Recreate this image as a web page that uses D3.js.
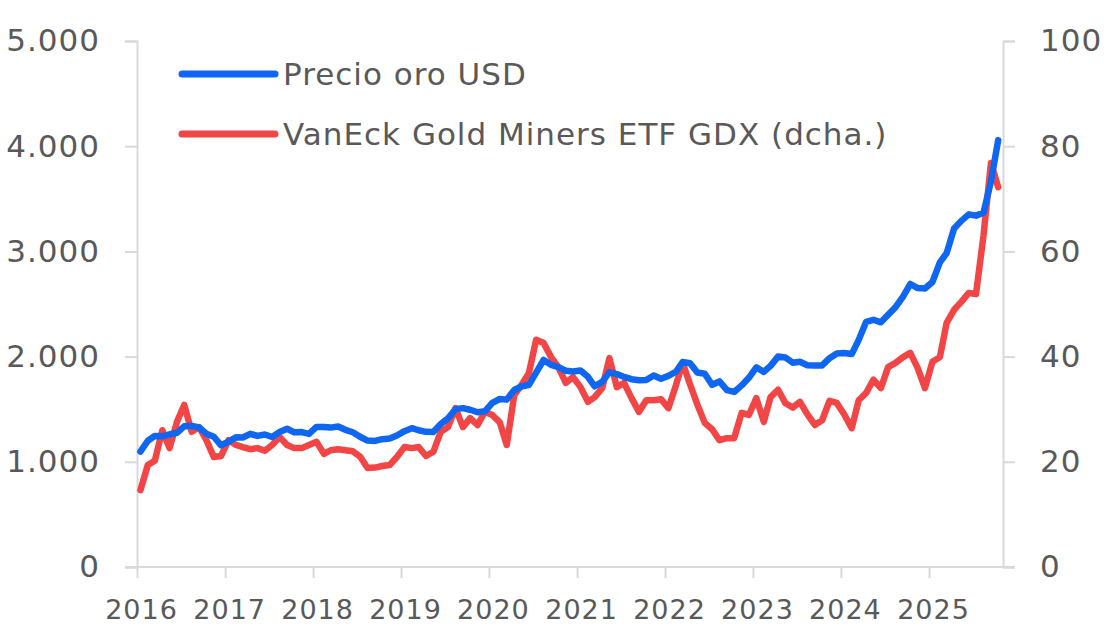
<!DOCTYPE html>
<html lang="es">
  <head>
    <meta charset="UTF-8" />
    <title>Oro vs GDX</title>
    <script src="https://d3js.org/d3.v7.min.js"></script>
    <style>
      body {
        margin: 0;
        background: #fff;
        font-family: "DejaVu Sans", Verdana, sans-serif;
      }
      #chart svg {
        display: block;
      }
    </style>
  </head>
  <body>
    <div id="chart"></div>

    <script>
      // monthly series, Jan 2016 .. Oct 2025 (points sit mid-month)
      const firstMonth = new Date(2016, 0, 1);
      const endMonth = new Date(2025, 10, 1);

      const goldUsd = [
        1097, 1200, 1246, 1242, 1260, 1276, 1337, 1341, 1326, 1267, 1238, 1157,
        1192, 1234, 1231, 1266, 1246, 1260, 1236, 1283, 1314, 1280, 1283, 1265,
        1331, 1331, 1325, 1335, 1304, 1281, 1238, 1202, 1198, 1215, 1221, 1250,
        1291, 1320, 1300, 1285, 1284, 1359, 1413, 1500, 1510, 1495, 1471, 1480,
        1560, 1597, 1591, 1683, 1716, 1732, 1847, 1968, 1921, 1900, 1866, 1858,
        1867, 1808, 1718, 1760, 1850, 1834, 1807, 1785, 1775, 1777, 1821, 1790,
        1817, 1856, 1948, 1937, 1849, 1837, 1732, 1764, 1681, 1664, 1726, 1798,
        1898, 1855, 1912, 2000, 1992, 1942, 1951, 1918, 1916, 1916, 1985, 2030,
        2034, 2024, 2159, 2331, 2350, 2326, 2398, 2470, 2571, 2690, 2651, 2648,
        2709, 2895, 2984, 3217, 3290, 3352, 3340, 3368, 3665, 4058
      ];

      const gdxEtf = [
        14.6, 19.4, 20.2, 26.0, 22.6, 27.6, 30.8, 25.7, 26.6, 24.1, 20.9, 21.1,
        24.1, 23.2, 22.8, 22.4, 22.6, 22.1, 23.2, 24.7, 23.2, 22.6, 22.6, 23.2,
        23.8, 21.5, 22.2, 22.4, 22.2, 22.0, 21.0, 18.8, 18.9, 19.2, 19.4, 20.9,
        22.8, 22.6, 22.8, 21.1, 21.9, 25.7, 26.6, 30.2, 26.6, 28.3, 27.0, 29.5,
        28.9, 27.5, 23.2, 32.7, 34.6, 36.9, 43.2, 42.6, 39.9, 38.0, 35.0, 36.1,
        34.2, 31.4, 32.3, 34.0, 39.7, 34.2, 35.0, 32.1, 29.5, 31.7, 31.7, 31.9,
        30.2, 34.5, 38.8, 34.7, 30.9, 27.4, 26.2, 24.1, 24.5, 24.5, 29.3, 28.9,
        32.1, 27.6, 32.3, 33.7, 31.2, 30.3, 31.4, 29.0, 27.0, 27.9, 31.6, 31.2,
        29.0, 26.4, 31.7, 33.1, 35.6, 34.0, 38.0, 38.8, 39.9, 40.7, 37.8, 34.0,
        39.0, 39.9, 46.4, 48.9, 50.4, 52.1, 51.9, 63.0, 76.8, 72.2
      ];

      const yearTicks = [2016, 2017, 2018, 2019, 2020, 2021, 2022, 2023, 2024, 2025];
      const leftTicks = [0, 1000, 2000, 3000, 4000, 5000];
      const rightTicks = [0, 20, 40, 60, 80, 100];

      const seriesNames = ["Precio oro USD", "VanEck Gold Miners ETF GDX (dcha.)"];
      const seriesColors = ["#0f66f0", "#f24545"];

      const width = 1109;
      const height = 637;
      const margin = { top: 41, right: 106, bottom: 70, left: 137 };

      const axisGrey = "#d9d9d9";
      const textGrey = "#595959";
      const fontStack = "'DejaVu Sans', Verdana, sans-serif";

      const months = d3.timeMonth.range(firstMonth, endMonth).map((m) => d3.timeDay.offset(m, 14));

      const svg = d3
        .select("#chart")
        .append("svg")
        .attr("width", width)
        .attr("height", height);

      const x = d3
        .scaleTime()
        .domain([new Date(2016, 0, 1), new Date(2025, 10, 4)])
        .range([margin.left, width - margin.right]);

      const yLeft = d3
        .scaleLinear()
        .domain([0, 5000])
        .range([height - margin.bottom, margin.top]);

      const yRight = d3
        .scaleLinear()
        .domain([0, 100])
        .range([height - margin.bottom, margin.top]);

      const es = d3.formatLocale({ decimal: ",", thousands: ".", grouping: [3], currency: ["", "€"] });
      const fmt = es.format(",d");

      // axes
      const gLeft = svg
        .append("g")
        .attr("transform", `translate(${margin.left},0)`)
        .call(d3.axisLeft(yLeft).tickValues(leftTicks).tickSize(12).tickPadding(25).tickFormat(fmt));

      const gRight = svg
        .append("g")
        .attr("transform", `translate(${width - margin.right},0)`)
        .call(d3.axisRight(yRight).tickValues(rightTicks).tickSize(12).tickPadding(25));

      const gBottom = svg
        .append("g")
        .attr("transform", `translate(0,${height - margin.bottom})`)
        .call(
          d3
            .axisBottom(x)
            .tickValues(yearTicks.map((yr) => new Date(yr, 0, 1)))
            .tickSize(11)
            .tickPadding(22)
            .tickFormat(d3.timeFormat("%Y"))
        );

      [gLeft, gRight, gBottom].forEach((g) => {
        g.select(".domain").attr("stroke", axisGrey).attr("stroke-width", 2);
        g.selectAll(".tick line").attr("stroke", axisGrey).attr("stroke-width", 2);
        g.selectAll(".tick text")
          .attr("fill", textGrey)
          .style("font-family", fontStack)
          .style("font-size", "31px")
          .style("letter-spacing", "1px");
      });
      gBottom.select(".domain").attr("d", `M${margin.left - 12},0H${width - margin.right + 12}`);
      gBottom.selectAll(".tick text").style("font-size", "27px").attr("dx", 4);

      // lines
      const goldLine = d3
        .line()
        .x((d, i) => x(months[i]))
        .y((d) => yLeft(d));

      const gdxLine = d3
        .line()
        .x((d, i) => x(months[i]))
        .y((d) => yRight(d));

      svg
        .append("path")
        .datum(gdxEtf)
        .attr("fill", "none")
        .attr("stroke", seriesColors[1])
        .attr("stroke-width", 6.5)
        .attr("stroke-linejoin", "round")
        .attr("stroke-linecap", "round")
        .attr("d", gdxLine);

      svg
        .append("path")
        .datum(goldUsd)
        .attr("fill", "none")
        .attr("stroke", seriesColors[0])
        .attr("stroke-width", 6.5)
        .attr("stroke-linejoin", "round")
        .attr("stroke-linecap", "round")
        .attr("d", goldLine);

      // legend
      const legend = svg
        .append("g")
        .selectAll("g")
        .data(seriesNames)
        .join("g")
        .attr("transform", (d, i) => `translate(182,${74 + i * 60})`);

      legend
        .append("line")
        .attr("x1", 0)
        .attr("x2", 93)
        .attr("stroke", (d, i) => seriesColors[i])
        .attr("stroke-width", 7)
        .attr("stroke-linecap", "round");

      legend
        .append("text")
        .attr("x", 101)
        .attr("dy", "0.36em")
        .attr("fill", textGrey)
        .style("font-family", fontStack)
        .style("font-size", "31px")
        .style("letter-spacing", "1px")
        .text((d) => d);
    </script>
  </body>
</html>
